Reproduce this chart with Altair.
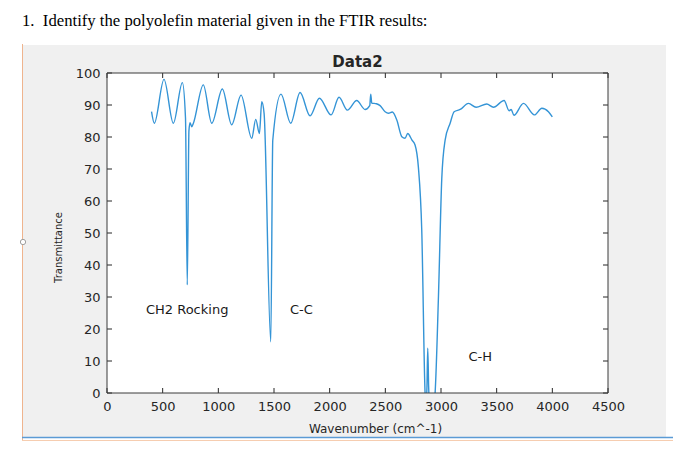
import altair as alt
import pandas as pd

question = "1.\u00a0\u00a0Identify the polyolefin material given in the FTIR results:"
chart_title = "Data2"
x_title = "Wavenumber (cm^-1)"
y_title = "Transmittance"

wavenumber = [400, 425, 512, 596, 677, 705, 721, 736, 746, 761, 776, 865, 941, 1036, 1120,
              1204, 1300, 1336, 1369, 1390, 1411, 1471, 1489, 1563, 1650, 1734, 1824, 1908,
              2013, 2084, 2159, 2243, 2318, 2360, 2369, 2378, 2420, 2453, 2498, 2528, 2563,
              2603, 2648, 2677, 2701, 2738, 2767, 2797, 2827, 2857, 2866, 2874, 2881, 2889,
              2900, 2925, 2947, 2977, 3007, 3037, 3082, 3118, 3172, 3247, 3315, 3411, 3471,
              3567, 3612, 3630, 3655, 3741, 3839, 3906, 3965, 4000]
transmittance = [87.9, 84.3, 98.0, 84.3, 97.0, 86.0, 33.8, 82.0, 84.5, 83.2, 84.3, 96.3, 84.3, 95.0, 83.8,
                 93.1, 79.6, 85.5, 81.1, 91.0, 87.4, 16.0, 79.0, 93.4, 84.3, 93.9, 86.6, 92.1,
                 86.9, 92.4, 88.4, 91.4, 88.6, 89.8, 93.4, 90.6, 90.4, 89.8, 87.9, 87.4, 87.8,
                 85.3, 80.1, 79.6, 81.1, 79.1, 77.5, 70.5, 51.0, 0.0, -5.0, 2.0, 14.0, 2.0,
                 -4.0, -6.0, 0.0, 30.0, 67.0, 79.0, 84.3, 87.9, 88.6, 90.5, 89.3, 90.3, 89.3,
                 91.4, 88.2, 88.6, 86.8, 90.5, 86.9, 89.0, 87.9, 86.3]
x_ticks = [0, 500, 1000, 1500, 2000, 2500, 3000, 3500, 4000, 4500]
y_ticks = [0, 10, 20, 30, 40, 50, 60, 70, 80, 90, 100]
ann_labels = ["CH2 Rocking", "C-C", "C-H"]
ann_wavenumber = [350, 1644, 3246]
ann_transmittance = [25.9, 25.9, 11.2]

W, H = 501, 320
FONT = "DejaVu Sans"
INK = "#262626"

spectrum = pd.DataFrame({"w": wavenumber, "t": transmittance})
xt = pd.DataFrame({"w": x_ticks})
yt = pd.DataFrame({"t": y_ticks})
ann = pd.DataFrame({"w": ann_wavenumber, "t": ann_transmittance, "label": ann_labels})
one = pd.DataFrame({"k": [0]})

xscale = alt.Scale(domain=[0, 4500], nice=False, zero=False)
yscale = alt.Scale(domain=[0, 100], nice=False, zero=False)

x_axis = alt.Axis(values=x_ticks, format="d", grid=False, domain=False, ticks=False, tickSize=0,
                  labelFont=FONT, labelFontSize=13, labelColor=INK, labelPadding=7,
                  labelFlush=False, title=x_title, titleFont=FONT, titleFontSize=12,
                  titleFontWeight="normal", titleColor=INK, titleX=268, titleY=35,
                  titleBaseline="middle", titleAlign="center", zindex=1)
y_axis = alt.Axis(values=y_ticks, format="d", grid=False, domain=False, ticks=False, tickSize=0,
                  labelFont=FONT, labelFontSize=13, labelColor=INK, labelPadding=7,
                  labelFlush=False, title=y_title, titleFont=FONT, titleFontSize=10,
                  titleFontWeight="normal", titleColor=INK, titleX=-49, titleY=174,
                  titleAngle=270, titleBaseline="middle", titleAlign="center", zindex=1)

X = alt.X("w:Q", scale=xscale, axis=x_axis)
Y = alt.Y("t:Q", scale=yscale, axis=y_axis)

frame = alt.Chart(one).mark_rect(color="#f0f0f0").encode(
    x=alt.value(-84), x2=alt.value(559), y=alt.value(-28), y2=alt.value(364))
plot_bg = alt.Chart(one).mark_rect(color="white").encode(
    x=alt.value(0), x2=alt.value(W), y=alt.value(0), y2=alt.value(H))
blue_line = alt.Chart(one).mark_rule(color="#5b9bd5", strokeWidth=1.5).encode(
    x=alt.value(-85), x2=alt.value(574), y=alt.value(364.5))
orange_b = alt.Chart(one).mark_rule(color="#f6cdb0", strokeWidth=1).encode(
    x=alt.value(-85), x2=alt.value(574), y=alt.value(367.5))
orange_v = alt.Chart(one).mark_rule(color="#efb48e", strokeWidth=1).encode(
    x=alt.value(-84.5), y=alt.value(-29), y2=alt.value(367))
handle = alt.Chart(one).mark_point(shape="circle", filled=True, fill="white", stroke="#a0a0a0",
                                   strokeWidth=1, size=28, opacity=1).encode(
    x=alt.value(-84), y=alt.value(169))

xt_bottom = alt.Chart(xt).mark_rule(color=INK).encode(x=X, y=alt.value(H), y2=alt.value(H - 5))
xt_top = alt.Chart(xt).mark_rule(color=INK).encode(x=X, y=alt.value(0), y2=alt.value(5))
yt_left = alt.Chart(yt).mark_rule(color=INK).encode(y=Y, x=alt.value(0), x2=alt.value(5))
yt_right = alt.Chart(yt).mark_rule(color=INK).encode(y=Y, x=alt.value(W), x2=alt.value(W - 5))

line = alt.Chart(spectrum).mark_line(color="#3494d6", strokeWidth=1.4, interpolate="monotone",
                                     clip=True).encode(x=X, y=Y)

box = alt.Chart(one).mark_rect(fillOpacity=0, stroke="#3a3a3a", strokeWidth=1).encode(
    x=alt.value(0), x2=alt.value(W), y=alt.value(0), y2=alt.value(H))

labels = alt.Chart(ann).mark_text(align="left", baseline="middle", font=FONT, fontSize=13,
                                  color="#1a1a1a").encode(x=X, y=Y, text="label:N")

q_text = alt.Chart(one).mark_text(text=question, font="Liberation Serif", fontSize=16.7,
                                  align="left", baseline="alphabetic", color="black").encode(
    x=alt.value(-85), y=alt.value(-47))
t_text = alt.Chart(one).mark_text(text=chart_title, font=FONT, fontSize=15, fontWeight="bold",
                                  align="center", baseline="middle", color=INK).encode(
    x=alt.value(W / 2), y=alt.value(-11))

chart = alt.layer(
    frame, plot_bg, orange_v, blue_line, orange_b, handle,
    xt_bottom, xt_top, yt_left, yt_right, line, box, labels, q_text, t_text
).properties(
    width=W, height=H,
    padding={"left": 99, "top": 65, "right": 65, "bottom": 49},
    autosize=alt.AutoSizeParams(type="none"),
).configure_view(strokeWidth=0)

chart.save("out.html", embed_options={"renderer": "svg", "actions": False})
